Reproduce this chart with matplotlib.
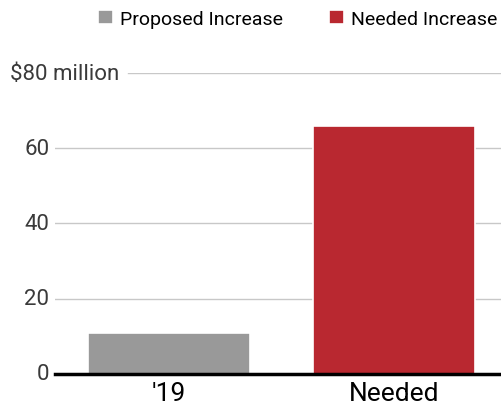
import matplotlib.pyplot as plt

# Data
categories = ["'19", "Needed"]
values = [11, 66]
series_labels = ['Proposed Increase', 'Needed Increase']
colors = ['#999999', '#b92830']
y_ticks = [0, 20, 40, 60, 80]
y_tick_labels = ['0', '20', '40', '60', '$80 million']

plt.rcParams['font.family'] = ['Roboto', 'DejaVu Sans']

fig = plt.figure(figsize=(5.01, 4.06), dpi=100)
ax = fig.add_axes([0.1098, 0.0764, 0.8902, 0.7413])

x = range(len(categories))
bars = ax.bar(x, values, width=0.72, color=colors, edgecolor='#ffffff', linewidth=1.2, zorder=3)

ax.set_xlim(-0.507, 1.476)
ax.set_ylim(0, 80)

# gridlines
for t in y_ticks[1:]:
    xmin = 0.164 if t == 80 else 0
    ax.axhline(t, xmin=xmin, xmax=1, color='#c8c8c8', lw=1, zorder=1)
ax.axhline(0, color='black', lw=2.5, zorder=4, clip_on=False)

# y labels drawn by hand: numbers right aligned, top label left aligned
for t, lab in zip(y_ticks, y_tick_labels):
    if t == 80:
        ax.text(-0.101, t, lab, transform=ax.get_yaxis_transform(), ha='left', va='center',
                fontsize=16, color='#3a3a3a')
    else:
        ax.text(-0.013, t, lab, transform=ax.get_yaxis_transform(), ha='right', va='center',
                fontsize=16, color='#3a3a3a')

ax.set_yticks([])
ax.set_xticks(list(x))
ax.set_xticklabels(categories, fontsize=19, color='black')
ax.tick_params(axis='x', length=0, pad=5)
for s in ax.spines.values():
    s.set_visible(False)

fig.legend(bars, series_labels, loc='upper right', bbox_to_anchor=(1.008, 0.992), ncol=2,
           frameon=False, fontsize=14, handlelength=0.75, handleheight=0.75,
           handletextpad=0.36, columnspacing=2.4, borderaxespad=0.0)

plt.savefig('out.png', dpi=100)
